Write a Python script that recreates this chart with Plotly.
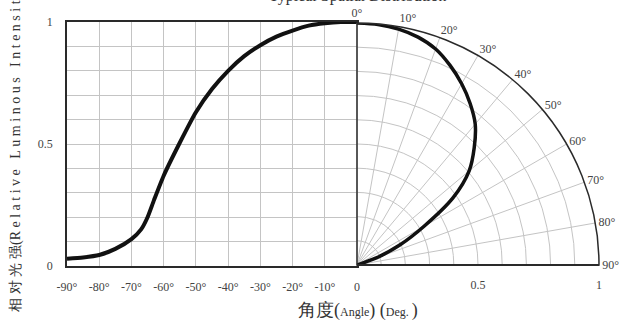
import plotly.graph_objects as go

# left half: cartesian intensity vs angle (-90..0)
angles_left = [-90, -85, -80, -75, -70, -67, -65, -63, -60, -55, -50, -45, -40, -35, -30, -25, -20, -15, -10, -5, 0]
intensity_left = [0.03, 0.035, 0.045, 0.07, 0.11, 0.15, 0.2, 0.27, 0.37, 0.505, 0.63, 0.725, 0.80, 0.86, 0.905, 0.94, 0.965, 0.985, 0.995, 1.0, 1.0]

# right half: polar plot (0..90 deg, 0 at top)
angles_polar = [0, 5, 10, 15, 20, 25, 30, 35, 40, 45, 50, 55, 60, 65, 70, 75]
intensity_polar = [1.0, 0.998, 0.99, 0.975, 0.95, 0.91, 0.865, 0.815, 0.76, 0.685, 0.605, 0.485, 0.32, 0.195, 0.085, 0.0]

x_ticks = [-90, -80, -70, -60, -50, -40, -30, -20, -10, 0]
x_ticktext = ["-90°", "-80°", "-70°", "-60°", "-50°", "-40°", "-30°", "-20°", "-10°", "0"]
y_ticks = [0, 0.1, 0.2, 0.3, 0.4, 0.5, 0.6, 0.7, 0.8, 0.9, 1.0]
y_ticktext = ["0", "", "", "", "", "0.5", "", "", "", "", "1"]
ang_ticks = [0, 10, 20, 30, 40, 50, 60, 70, 80, 90]
ang_ticktext = ["0°", "10°", "20°", "30°", "40°", "50°", "60°", "70°", "80°", "90°"]
r_ticks = [0, 0.1, 0.2, 0.3, 0.4, 0.5, 0.6, 0.7, 0.8, 0.9, 1.0]
r_ticktext = ["", "", "", "", "", "0.5", "", "", "", "", "1"]

W, H = 630, 326
serif = "Liberation Serif, Times New Roman, serif"
grid = "#c4c4c4"
dark = "#2a2a2a"

xdom = [67 / W, 357 / W]
ydom = [(H - 266) / H, (H - 22) / H]
pdom = [357 / W, 599 / W]

fig = go.Figure()
fig.add_trace(go.Scatter(x=angles_left, y=intensity_left, mode="lines",
                         line=dict(color="#111111", width=4, shape="spline", smoothing=0.6),
                         xaxis="x", yaxis="y", hoverinfo="skip"))
fig.add_trace(go.Scatterpolar(theta=angles_polar, r=intensity_polar, mode="lines",
                              line=dict(color="#111111", width=3.5, shape="spline", smoothing=0.8),
                              subplot="polar", hoverinfo="skip"))

fig.update_layout(
    width=W, height=H,
    margin=dict(l=0, r=0, t=0, b=0),
    paper_bgcolor="white", plot_bgcolor="white",
    showlegend=False,
    font=dict(family=serif, size=12, color="#333333"),
    xaxis=dict(domain=xdom, range=[-90, 0], tickvals=x_ticks, ticktext=x_ticktext,
               automargin=False,
               showgrid=True, gridcolor=grid, gridwidth=1.3, zeroline=False,
               showline=True, mirror=True, linecolor=dark, linewidth=1.8,
               ticks="outside", ticklen=9, tickcolor="rgba(0,0,0,0)",
               tickfont=dict(size=12, color="#444444"), fixedrange=True),
    yaxis=dict(domain=ydom, range=[0, 1], tickvals=y_ticks, ticktext=y_ticktext,
               automargin=False,
               showgrid=True, gridcolor=grid, gridwidth=1.3, zeroline=False,
               showline=True, mirror=True, linecolor=dark, linewidth=1.8,
               ticks="outside", ticklen=10, tickcolor="rgba(0,0,0,0)",
               tickfont=dict(size=12, color="#444444"), fixedrange=True),
    polar=dict(
        domain=dict(x=pdom, y=ydom),
        sector=[0, 90],
        bgcolor="white",
        angularaxis=dict(rotation=90, direction="clockwise", tickvals=ang_ticks,
                         ticktext=ang_ticktext, showgrid=True, gridcolor=grid, gridwidth=1.2,
                         showline=True, linecolor=dark, linewidth=1.5, ticks="",
                         tickfont=dict(size=12, color="#444444")),
        radialaxis=dict(range=[0, 1], angle=0, tickangle=0, side="clockwise",
                        tickvals=r_ticks, ticktext=r_ticktext, showgrid=True,
                        gridcolor=grid, gridwidth=1.2, showline=True, linecolor=dark,
                        linewidth=1.8, ticks="outside", ticklen=9,
                        tickcolor="rgba(0,0,0,0)",
                        tickfont=dict(size=12, color="#444444")),
    ),
)

sp = "\u00a0"
ytitle = "相" + sp + "对" + sp + "光" + sp + "强" + "(" + sp.join("Relative") + sp * 3 + \
    sp.join("Luminous") + sp * 3 + sp.join("Intensity") + ")"

fig.add_annotation(text="Typical Spatial Distribution", x=358 / W, y=(H - 7) / H,
                   xref="paper", yref="paper", xanchor="center", yanchor="bottom",
                   showarrow=False, font=dict(size=16, color="#333333"))
fig.add_annotation(text="<span style='font-size:18px'>角度(</span>Angle<span style='font-size:18px'>)" + sp + "(</span>Deg." + sp + "<span style='font-size:18px'>)</span>",
                   x=358 / W, y=(H - 310) / H, xref="paper", yref="paper",
                   xanchor="center", yanchor="middle", showarrow=False,
                   font=dict(size=12, color="#333333"))
fig.add_annotation(text=ytitle, textangle=-90, x=15 / W, y=(H - 314) / H,
                   xref="paper", yref="paper", xanchor="center", yanchor="bottom",
                   showarrow=False, font=dict(size=14, color="#333333"))

fig.write_html("out.html", config=dict(displayModeBar=False),
               post_script="document.body.style.margin='0';")
